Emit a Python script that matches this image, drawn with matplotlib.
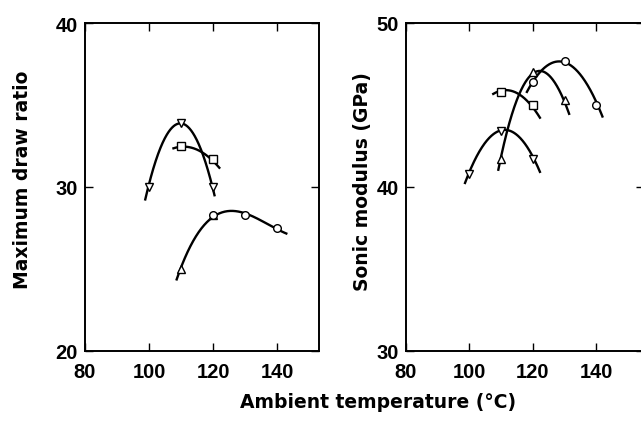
import numpy as np
import matplotlib
matplotlib.use("Agg")
import matplotlib.pyplot as plt

plt.rcParams['font.family'] = ['Liberation Sans', 'DejaVu Sans']
plt.rcParams['font.weight'] = 'bold'

# --- maximum draw ratio vs ambient temperature ---
dr_tri_down_x = [100, 110, 120]
dr_tri_down_y = [30.0, 33.9, 30.0]
dr_square_x = [110, 120]
dr_square_y = [32.5, 31.7]
dr_tri_up_x = [110, 120]
dr_tri_up_y = [25.0, 28.3]
dr_circle_x = [120, 130, 140]
dr_circle_y = [28.3, 28.3, 27.5]

# points (x, y)
dr_curves = [
    ([98.8, 100, 110, 120, 120.4], [29.4, 30.0, 33.9, 30.0, 29.3]),
    ([107.6, 110, 115, 119.9, 121.9], [32.35, 32.47, 32.2, 31.7, 31.1]),
    ([108.6, 110.2, 120, 125.3, 130, 140, 142.8], [24.5, 25.0, 28.3, 28.5, 28.3, 27.5, 27.1]),
]

# --- sonic modulus vs ambient temperature ---
sm_tri_down_x = [100, 110, 120]
sm_tri_down_y = [40.8, 43.4, 41.7]
sm_tri_up_x = [110, 120, 130]
sm_tri_up_y = [41.7, 47.0, 45.3]
sm_square_x = [110, 120]
sm_square_y = [45.8, 45.0]
sm_circle_x = [120, 130, 140]
sm_circle_y = [46.4, 47.7, 45.0]

sm_curves = [
    ([98.6, 99.6, 109.8, 120.3, 122.2], [40.2, 40.78, 43.43, 41.74, 40.9]),
    ([109.1, 110, 115, 119.6, 125, 129.9, 131.4], [41.2, 41.7, 45.3, 47.0, 46.7, 45.26, 44.45]),
    ([107.5, 109.6, 114.9, 119.9, 122.2], [45.7, 45.83, 45.67, 45.0, 44.14]),
    ([118.1, 122.2, 130.3, 140.3, 141.9], [45.9, 46.8, 47.7, 45.0, 44.3]),
]

W, H = 641, 431
fig = plt.figure(figsize=(W / 100, H / 100), dpi=100)
ax1 = fig.add_axes([85 / W, (H - 351.7) / H, (319 - 85) / W, (351.7 - 24) / H])
ax2 = fig.add_axes([406 / W, (H - 351.7) / H, (644 - 406) / W, (351.7 - 24) / H])

mk = dict(color='black', mfc='white', mec='black', ms=5.5, mew=1.0, ls='none', zorder=3)


def draw_curve(ax, xs, ys, deg):
    c = np.polyfit(xs, ys, deg)
    xx = np.linspace(xs[0], xs[-1], 200)
    ax.plot(xx, np.polyval(c, xx), color='black', lw=1.7, zorder=2)


for i, (xs, ys) in enumerate(dr_curves):
    draw_curve(ax1, xs, ys, 3 if i == 2 else 2)
ax1.plot(dr_tri_down_x, dr_tri_down_y, marker='v', **mk)
ax1.plot(dr_square_x, dr_square_y, marker='s', **mk)
ax1.plot(dr_tri_up_x, dr_tri_up_y, marker='^', **mk)
ax1.plot(dr_circle_x, dr_circle_y, marker='o', **mk)

for i, (xs, ys) in enumerate(sm_curves):
    draw_curve(ax2, xs, ys, 3 if i == 1 else 2)
ax2.plot(sm_tri_down_x, sm_tri_down_y, marker='v', **mk)
ax2.plot(sm_tri_up_x, sm_tri_up_y, marker='^', **mk)
ax2.plot(sm_square_x, sm_square_y, marker='s', **mk)
ax2.plot(sm_circle_x, sm_circle_y, marker='o', **mk)

ax1.set_xlim(80, 153)
ax1.set_ylim(20, 40)
ax1.set_yticks([20, 30, 40])
ax2.set_xlim(80, 155)
ax2.set_ylim(30, 50)
ax2.set_yticks([30, 40, 50])

for ax in (ax1, ax2):
    ax.set_xticks([80, 100, 120, 140])
    ax.tick_params(direction='in', length=6, width=1.0, top=True, right=True,
                   labelsize=14.5)
    ax.tick_params(axis='x', pad=8)
    ax.tick_params(axis='y', pad=5)
    for lab in ax.get_xticklabels() + ax.get_yticklabels():
        lab.set_fontweight('bold')
    for s in ax.spines.values():
        s.set_linewidth(1.4)

lab_font = dict(family='DejaVu Sans', fontsize=13.5, fontweight='bold')
ax1.set_ylabel('Maximum draw ratio', **lab_font)
ax2.set_ylabel('Sonic modulus (GPa)', **lab_font)
ax1.yaxis.set_label_coords(-0.226, 0.525)
ax2.yaxis.set_label_coords(-0.143, 0.52)

fig.text(378 / W, 1 - 403 / H, 'Ambient temperature (°C)', ha='center', va='center',
         **lab_font)

fig.savefig('out.png', dpi=100)
